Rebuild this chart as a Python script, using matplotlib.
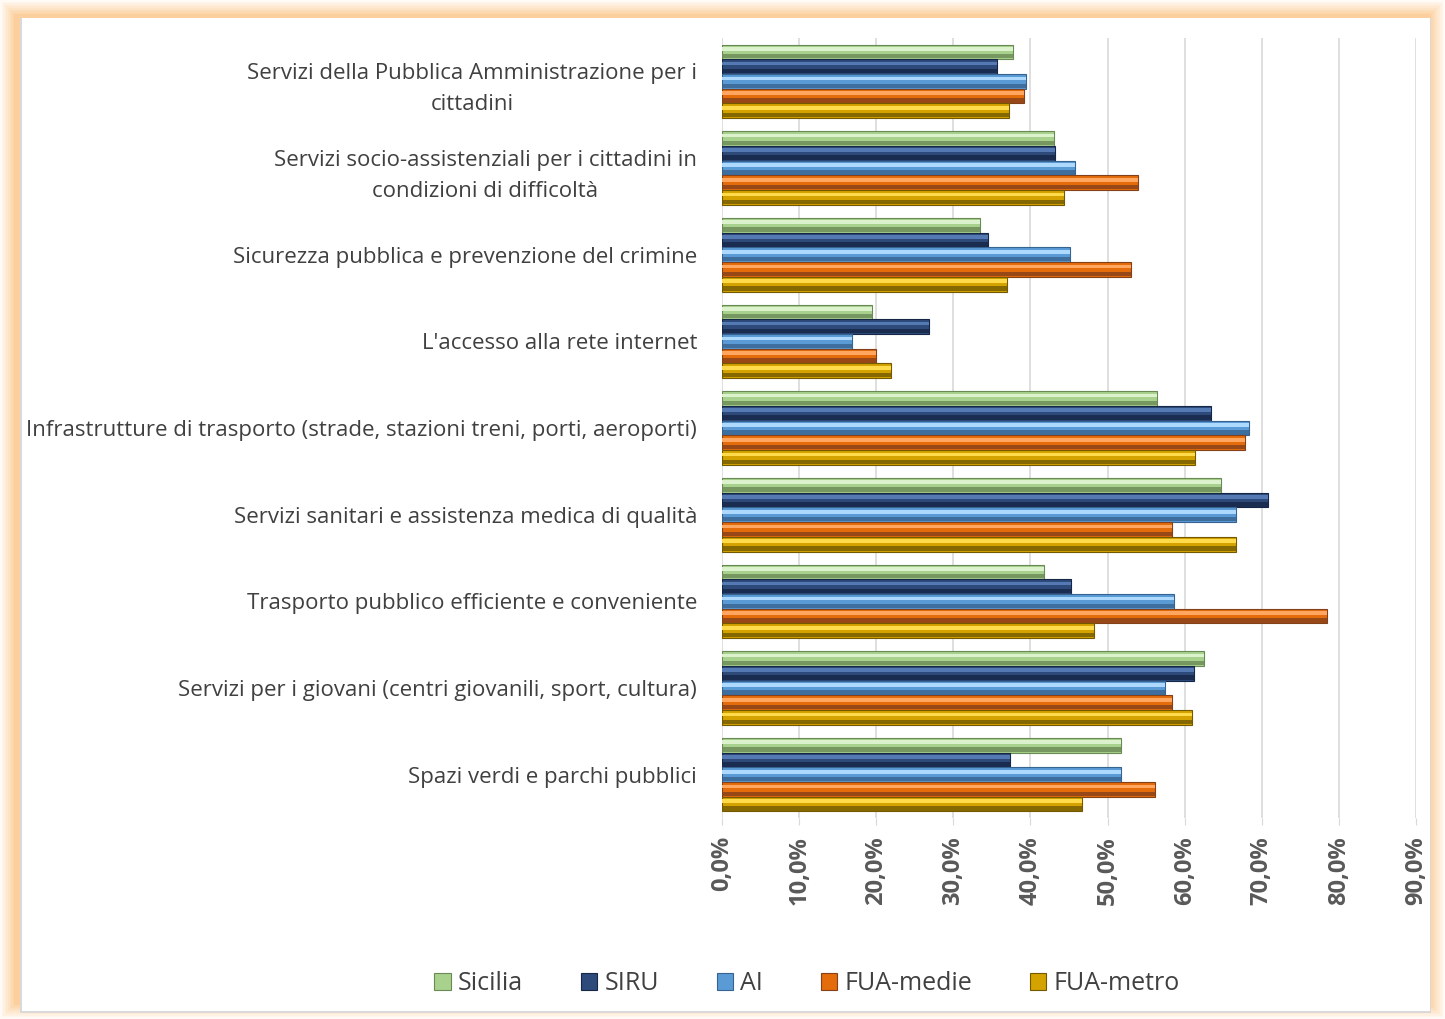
import matplotlib
matplotlib.use("Agg")
import matplotlib.pyplot as plt
from matplotlib.patches import Rectangle
from matplotlib.ticker import FuncFormatter
import numpy as np

# categories, top to bottom as shown
categories = [
    "Servizi della Pubblica Amministrazione per i\ncittadini",
    "Servizi socio-assistenziali per i cittadini in\ncondizioni di difficoltà",
    "Sicurezza pubblica e prevenzione del crimine",
    "L'accesso alla rete internet",
    "Infrastrutture di trasporto (strade, stazioni treni, porti, aeroporti)",
    "Servizi sanitari e assistenza medica di qualità",
    "Trasporto pubblico efficiente e conveniente",
    "Servizi per i giovani (centri giovanili, sport, cultura)",
    "Spazi verdi e parchi pubblici",
]

series_names = ["Sicilia", "SIRU", "AI", "FUA-medie", "FUA-metro"]

# values in %
sicilia = [37.7, 43.0, 33.5, 19.4, 56.4, 64.7, 41.7, 62.5, 51.8]
siru = [35.7, 43.2, 34.5, 26.8, 63.4, 70.8, 45.2, 61.2, 37.3]
ai = [39.4, 45.8, 45.1, 16.8, 68.4, 66.6, 58.6, 57.5, 51.8]
fua_medie = [39.2, 54.0, 53.0, 20.0, 67.8, 58.3, 78.4, 58.3, 56.1]
fua_metro = [37.2, 44.3, 36.9, 21.9, 61.4, 66.6, 48.3, 60.9, 46.7]

series_values = [sicilia, siru, ai, fua_medie, fua_metro]

# (light, mid, dark) for a bevel look
palette = [
    ("#dcf2cc", "#a9d18e", "#6a8a55"),
    ("#5479b3", "#2e4a7a", "#162646"),
    ("#aed9ff", "#5b9bd5", "#36638f"),
    ("#ffa660", "#e46c0a", "#84401a"),
    ("#ffda4a", "#d4a300", "#735a00"),
]

W, H = 1445, 1019
fig = plt.figure(figsize=(W / 100, H / 100), dpi=100)
fig.patch.set_facecolor("white")

# orange glow frame (behind the axes)
steps = 10
for k in range(steps):
    t = (k + 1) / steps
    c = np.array([1.0, 1.0, 1.0]) * (1 - t) + np.array([252, 208, 158]) / 255 * t
    m = k * 1.6
    fig.add_artist(Rectangle((m / W, m / H), 1 - 2 * m / W, 1 - 2 * m / H, zorder=-10,
                             transform=fig.transFigure, facecolor=c, edgecolor="none"))
fig.add_artist(Rectangle((20 / W, 6 / H), (1431 - 20) / W, (1001 - 6) / H, zorder=-9,
                         transform=fig.transFigure, facecolor="#d9d9d9", edgecolor="none"))
fig.add_artist(Rectangle((22 / W, 8 / H), (1430 - 22) / W, (1001 - 8) / H, zorder=-8,
                         transform=fig.transFigure, facecolor="white", edgecolor="none"))

ax = fig.add_axes([722 / W, 1 - 818 / H, (1416 - 722) / W, (818 - 38) / H])
ax.set_facecolor("none")

y = np.arange(len(categories))
h = 0.17
for j, (name, vals) in enumerate(zip(series_names, series_values)):
    light, mid, dark = palette[j]
    yy = y + (j - 2) * h
    ax.barh(yy, vals, height=h, color=mid, edgecolor=dark, linewidth=0.8, label=name, zorder=3)
    # highlight on upper part, shade on lower part (y axis inverted)
    ax.barh(yy - h * 0.2, vals, height=h * 0.25, color=light, edgecolor="none", zorder=4)
    ax.barh(yy + h * 0.3, vals, height=h * 0.3, color=dark, edgecolor="none", alpha=0.8, zorder=4)

ax.set_xlim(0, 90)
ax.set_ylim(len(categories) - 0.5, -0.5)
ax.set_xticks(np.arange(0, 91, 10))
ax.xaxis.set_major_formatter(FuncFormatter(lambda v, p: f"{v:.1f}%".replace(".", ",")))
ax.grid(axis="x", color="#d9d9d9", linewidth=1.2, zorder=0)
for s in ax.spines.values():
    s.set_visible(False)
ax.tick_params(axis="x", length=5, color="#d9d9d9", labelcolor="#595959", pad=8)
ax.tick_params(axis="y", length=0, pad=18)
for lab in ax.get_xticklabels():
    lab.set_rotation(90)
    lab.set_fontweight("bold")
    lab.set_fontsize(17)
    lab.set_family(["Open Sans", "DejaVu Sans"])

ax.set_yticks(y)
ax.set_yticklabels(categories, fontsize=16, color="#404040", family=["Open Sans", "DejaVu Sans"],
                   linespacing=1.65, multialignment="center")

handles, labels = ax.get_legend_handles_labels()
leg = fig.legend(handles, labels, loc="center", bbox_to_anchor=(807 / W, 1 - 984 / H), ncol=5,
                 frameon=False, handlelength=0.65, handleheight=0.65,
                 columnspacing=2.3, handletextpad=0.3,
                 prop={"family": ["Open Sans", "DejaVu Sans"], "size": 18})
for t in leg.get_texts():
    t.set_color("#404040")

fig.savefig("out.png", dpi=100)
